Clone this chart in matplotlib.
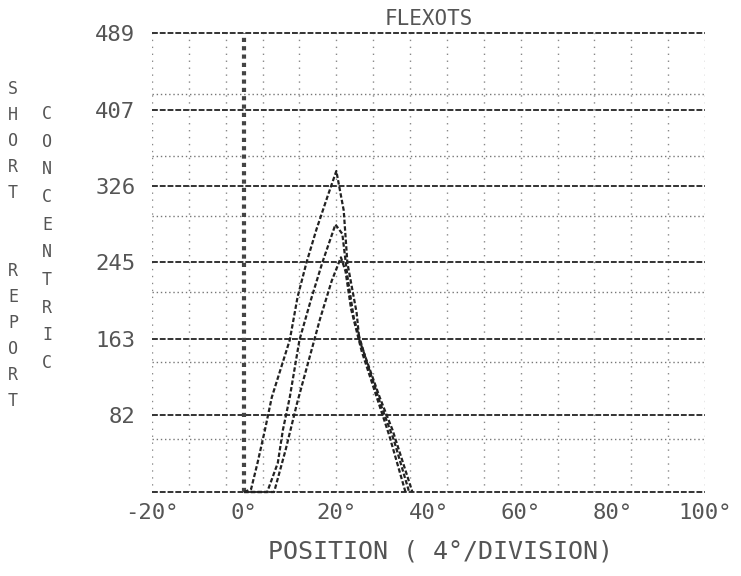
import matplotlib
matplotlib.use('Agg')
import matplotlib.pyplot as plt

# values
x_ticks = [-20, 0, 20, 40, 60, 80, 100]
x_tick_labels = ['-20°', '0°', '20°', '40°', '60°', '80°', '100°']
y_ticks = [82, 163, 245, 326, 407, 489]
y_tick_labels = ['82', '163', '245', '326', '407', '489']
y_major_lines = [0, 82, 163, 245, 326, 407, 489]
y_minor_lines = [56, 139, 213, 294, 358, 424]
x_minor_lines = [-20, -12, -4, 4, 12, 20, 28, 36, 44, 52, 60, 68, 76, 84, 92, 100]

outer_x = [0, 1.5, 2.9, 4.5, 6.0, 9.9, 11.6, 13.5, 15.7, 18.1, 20.0, 21.6, 22.4, 24.4, 25.0, 29.4, 32.2, 36.5]
outer_y = [0, 3, 31, 66, 101, 162, 208, 244, 280, 315, 342, 300, 244, 191, 162, 101, 66, 0]
mid_x = [0, 5.0, 7.3, 8.4, 9.9, 12.0, 14.5, 17.0, 19.8, 21.3, 22.4, 23.8, 26.5, 29.5, 32.5, 35.8]
mid_y = [0, 0, 31, 66, 101, 162, 205, 245, 285, 275, 230, 185, 140, 95, 55, 0]
inner_x = [0, 6.5, 9.0, 11.5, 14.0, 16.5, 19.0, 21.0, 22.0, 23.2, 25.5, 28.5, 31.5, 35.0]
inner_y = [0, 0, 45, 95, 140, 185, 225, 250, 235, 195, 150, 105, 60, 0]

title = 'FLEXOTS'
x_label = 'POSITION ( 4°/DIVISION)'
y_label_1 = 'SHORT  REPORT'
y_label_2 = 'CONCENTRIC'

font = 'DejaVu Sans Mono'
ink = '#555555'

fig = plt.figure(figsize=(7.41, 5.76), dpi=100)
ax = fig.add_axes([152/741, 1 - 492/576, (705-152)/741, (492-33)/576])
ax.set_xlim(-20, 100)
ax.set_ylim(0, 489)

for y in y_minor_lines:
    ax.axhline(y, color='#777777', lw=1.0, ls=(0, (1, 2)), zorder=1)
for x in x_minor_lines:
    ax.axvline(x, color='#888888', lw=1.0, ls=(0, (1, 4)), zorder=1)
for y in y_major_lines:
    ax.axhline(y, color='#333333', lw=1.4, ls=(0, (3, 1)), zorder=2, clip_on=False)
ax.axvline(0, color='#444444', lw=3.0, ls=(0, (1, 1)), zorder=2)

for xs, ys in [(outer_x, outer_y), (mid_x, mid_y), (inner_x, inner_y)]:
    ax.plot(xs, ys, color='#222222', lw=1.6, ls=(0, (2, 1)), zorder=3, clip_on=False)

for s in ax.spines.values():
    s.set_visible(False)
ax.set_xticks(x_ticks, x_tick_labels)
ax.set_yticks(y_ticks, y_tick_labels)
ax.tick_params(length=0, colors=ink, labelsize=16)
ax.tick_params(axis='x', pad=8)
ax.tick_params(axis='y', pad=12)
for lab in ax.get_xticklabels() + ax.get_yticklabels():
    lab.set_family(font)

fig.text(429/741, 1 - 19/576, title, ha='center', va='center', fontsize=15,
         family=font, color=ink)
fig.text(441/741, 1 - 552/576, x_label, ha='center', va='center', fontsize=18,
         family=font, color=ink)
fig.text(13/741, 1 - 80/576, '\n'.join(y_label_1), ha='center', va='top', fontsize=12,
         family=font, color=ink, linespacing=1.57)
fig.text(47/741, 1 - 105/576, '\n'.join(y_label_2), ha='center', va='top', fontsize=12,
         family=font, color=ink, linespacing=1.69)

fig.savefig('out.png', dpi=100)
